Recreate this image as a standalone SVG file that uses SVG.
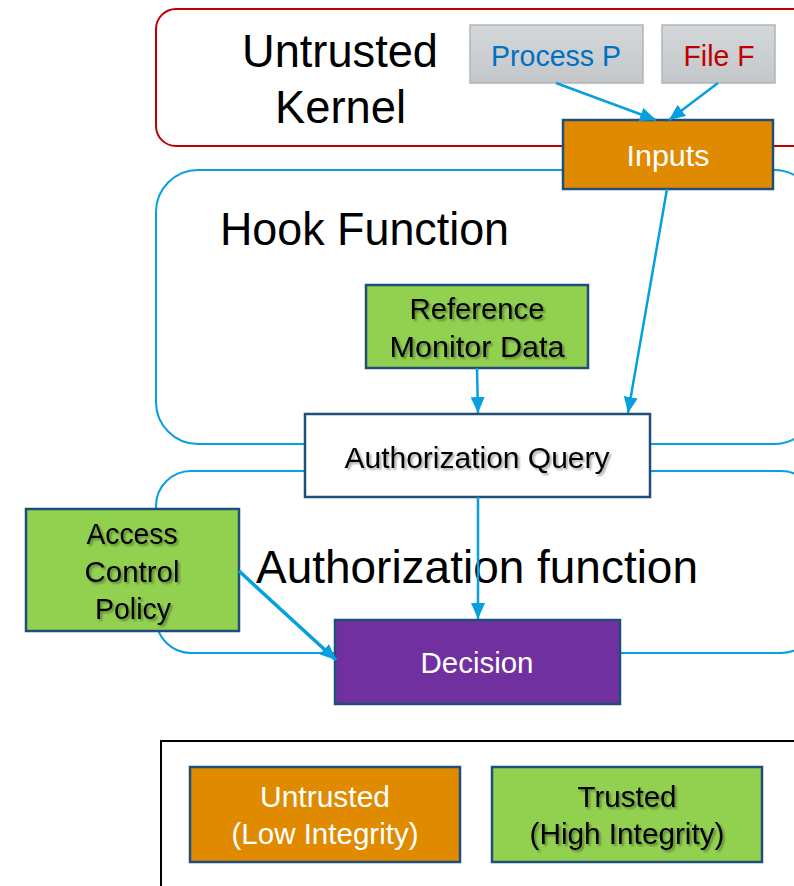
<svg xmlns="http://www.w3.org/2000/svg" width="794" height="886" viewBox="0 0 794 886">
<style>
text{font-family:"Liberation Sans",Arial,sans-serif;text-anchor:middle}
.big{font-size:47px;fill:#000;text-anchor:start}
.lbl{font-size:30px}
.sh{filter:url(#ts)}
.node{stroke:#1f4e79;stroke-width:2.5}
.grp{fill:none;stroke-width:2}
.conn{stroke:#069fdf;stroke-width:2.5;fill:none;marker-end:url(#ah)}
</style>
<defs>
<marker id="ah" viewBox="0 0 10 10" refX="10" refY="5" markerWidth="16" markerHeight="14" orient="auto" markerUnits="userSpaceOnUse" preserveAspectRatio="none">
<path d="M0,0 L10,5 L0,10 z" fill="#069fdf"/>
</marker>
<filter id="ts" x="-10%" y="-20%" width="130%" height="150%">
<feGaussianBlur in="SourceAlpha" stdDeviation="1"/>
<feOffset dx="1.5" dy="1.5" result="o"/>
<feComponentTransfer><feFuncA type="linear" slope="0.35"/></feComponentTransfer>
<feMerge><feMergeNode/><feMergeNode in="SourceGraphic"/></feMerge>
</filter>
<linearGradient id="gray" x1="0" y1="0" x2="0" y2="1"><stop offset="0" stop-color="#d5d8db"/><stop offset="1" stop-color="#c3c7ca"/></linearGradient>
</defs>
<g id="untrusted-kernel">
<rect class="grp" x="156" y="9" width="660" height="137" rx="20" stroke="#c00000"/>
<text class="big" x="242" y="67" textLength="196" lengthAdjust="spacingAndGlyphs">Untrusted</text>
<text class="big" x="275" y="123" textLength="131" lengthAdjust="spacingAndGlyphs">Kernel</text>
</g>
<g id="hook-function">
<rect class="grp" x="156" y="170" width="660" height="274" rx="42" stroke="#069fdf"/>
<text class="big" x="220" y="245" textLength="289" lengthAdjust="spacingAndGlyphs">Hook Function</text>
</g>
<g id="authorization-function">
<rect class="grp" x="156" y="471" width="660" height="182" rx="35" stroke="#069fdf"/>
</g>
<g id="process-p">
<rect x="470" y="25" width="173" height="58" fill="url(#gray)" stroke="#b0b5b9" stroke-width="1.5"/>
<text class="lbl" x="556" y="66" fill="#0070c0" textLength="130" lengthAdjust="spacingAndGlyphs">Process P</text>
</g>
<g id="file-f">
<rect x="662" y="25" width="113" height="58" fill="url(#gray)" stroke="#b0b5b9" stroke-width="1.5"/>
<text class="lbl" x="719" y="66" fill="#c00000" textLength="71" lengthAdjust="spacingAndGlyphs">File F</text>
</g>
<g id="inputs">
<rect class="node" x="563" y="120" width="210" height="69" fill="#e08a00"/>
<text class="lbl" x="668" y="166" fill="#fff" textLength="83" lengthAdjust="spacingAndGlyphs">Inputs</text>
</g>
<g id="reference-monitor-data">
<rect class="node" x="366" y="285" width="222" height="83" fill="#92d050"/>
<text class="lbl sh" x="477" y="319" fill="#000" textLength="135" lengthAdjust="spacingAndGlyphs">Reference</text>
<text class="lbl sh" x="477" y="357" fill="#000" textLength="175" lengthAdjust="spacingAndGlyphs">Monitor Data</text>
</g>
<g id="authorization-query">
<rect class="node" x="305" y="414" width="345" height="83" fill="#fff"/>
<text class="lbl sh" x="477" y="468" fill="#000" textLength="265" lengthAdjust="spacingAndGlyphs">Authorization Query</text>
</g>
<g id="access-control-policy">
<rect class="node" x="26" y="509" width="213" height="122" fill="#92d050"/>
<text class="lbl sh" x="132" y="544" fill="#000" textLength="91" lengthAdjust="spacingAndGlyphs">Access</text>
<text class="lbl sh" x="132" y="582" fill="#000" textLength="95" lengthAdjust="spacingAndGlyphs">Control</text>
<text class="lbl sh" x="133" y="619" fill="#000" textLength="76" lengthAdjust="spacingAndGlyphs">Policy</text>
</g>
<text class="big" x="256" y="583" textLength="442" lengthAdjust="spacingAndGlyphs">Authorization function</text>
<g id="decision">
<rect class="node" x="335" y="620" width="285" height="84" fill="#7030a0"/>
<text class="lbl" x="477" y="673" fill="#fff" textLength="113" lengthAdjust="spacingAndGlyphs">Decision</text>
</g>
<g id="connectors">
<line class="conn" x1="556" y1="83" x2="656" y2="120"/>
<line class="conn" x1="718" y1="83" x2="669" y2="120"/>
<line class="conn" x1="667" y1="189" x2="628" y2="413"/>
<line class="conn" x1="477" y1="368" x2="478" y2="413"/>
<line class="conn" x1="478" y1="497" x2="478" y2="619"/>
<line class="conn" x1="239" y1="571" x2="336" y2="660" style="stroke-width:3.5"/>
</g>
<g id="legend">
<rect x="161" y="741" width="650" height="160" fill="#fff" stroke="#000" stroke-width="2"/>
<g id="legend-untrusted">
<rect class="node" x="190" y="767" width="270" height="95" fill="#e08a00"/>
<text class="lbl" x="325" y="807" fill="#fff" textLength="130" lengthAdjust="spacingAndGlyphs">Untrusted</text>
<text class="lbl" x="325" y="844" fill="#fff" textLength="187" lengthAdjust="spacingAndGlyphs">(Low Integrity)</text>
</g>
<g id="legend-trusted">
<rect class="node" x="492" y="767" width="270" height="95" fill="#92d050"/>
<text class="lbl sh" x="627" y="807" fill="#000" textLength="99" lengthAdjust="spacingAndGlyphs">Trusted</text>
<text class="lbl sh" x="627" y="844" fill="#000" textLength="195" lengthAdjust="spacingAndGlyphs">(High Integrity)</text>
</g>
</g>
</svg>
